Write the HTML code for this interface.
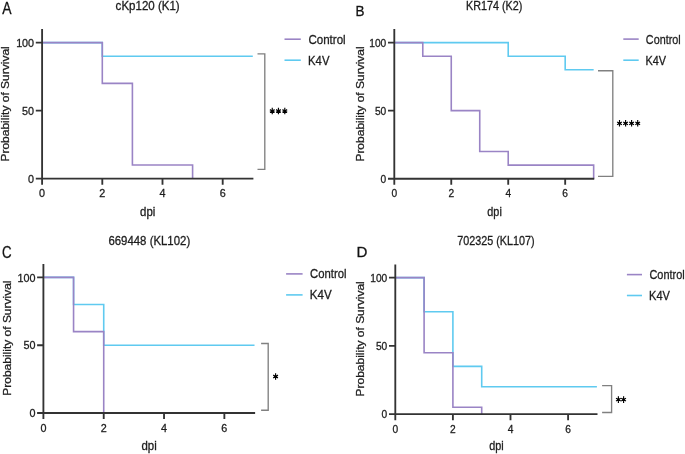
<!DOCTYPE html>
<html><head><meta charset="utf-8"><style>
html,body{margin:0;padding:0;background:#fff;width:685px;height:454px;overflow:hidden}
svg{display:block;will-change:transform}
text{font-family:"Liberation Sans",sans-serif;stroke:#1c1c1c;stroke-width:0.3;paint-order:stroke}
</style></head><body>
<svg width="685" height="454" viewBox="0 0 685 454">
<polyline points="42.1,42.6 102.3,42.6 102.3,56.2 252.8,56.2" fill="none" stroke="#5fcaf0" stroke-width="1.6"/>
<polyline points="42.1,42.6 102.3,42.6 102.3,83.4 132.4,83.4 132.4,165 192.6,165 192.6,178.6" fill="none" stroke="#9a84c5" stroke-width="1.6"/>
<path d="M42.1 29V178.6M35.8 178.6H253.4M35.8 42.6H42.1M35.8 110.6H42.1M42.1 178.6V184.7M102.3 178.6V184.7M162.5 178.6V184.7M222.7 178.6V184.7" fill="none" stroke="#333333" stroke-width="1.85"/>
<text transform="translate(16.13,46.8) scale(0.93,1)" font-size="11.6" fill="#1c1c1c">100</text>
<text transform="translate(22.12,114.8) scale(0.93,1)" font-size="11.6" fill="#1c1c1c">50</text>
<text transform="translate(28.12,182.8) scale(0.93,1)" font-size="11.6" fill="#1c1c1c">0</text>
<text transform="translate(39.1,197.2) scale(0.93,1)" font-size="11.6" fill="#1c1c1c">0</text>
<text transform="translate(99.3,197.2) scale(0.93,1)" font-size="11.6" fill="#1c1c1c">2</text>
<text transform="translate(159.53,197.2) scale(0.93,1)" font-size="11.6" fill="#1c1c1c">4</text>
<text transform="translate(219.66,197.2) scale(0.93,1)" font-size="11.6" fill="#1c1c1c">6</text>
<text transform="translate(140.12,215.8) scale(0.96,1)" font-size="11.9" fill="#1c1c1c">dpi</text>
<text transform="translate(8.7,103.8) rotate(-90) scale(1,0.93)" x="-57.78" y="0" font-size="12" fill="#1c1c1c">Probability of Survival</text>
<text transform="translate(115.62,9.8) scale(0.93,1)" font-size="12.4" fill="#1c1c1c">cKp120 (K1)</text>
<text transform="translate(2.17,13.9) scale(0.84,1)" font-size="16.6" fill="#111">A</text>
<path d="M284.5 39.2H300.8" stroke="#9a84c5" stroke-width="1.6"/>
<path d="M284.5 60.2H300.8" stroke="#5fcaf0" stroke-width="1.6"/>
<text transform="translate(308.41,43.6) scale(0.89,1)" font-size="13" fill="#1c1c1c">Control</text>
<text transform="translate(308.07,64.7) scale(0.87,1)" font-size="13" fill="#1c1c1c">K4V</text>
<path d="M257.5 53.9H264.8V169.4H257.5" fill="none" stroke="#808080" stroke-width="1.35"/>
<path d="M272.76 111L272.86 107.7L271.66 107.7L271.76 111ZM272.51 111.43L274.94 110.14L274.34 109.11L272.01 110.57ZM272.01 111.43L274.34 112.89L274.94 111.86L272.51 110.57ZM271.76 111L271.66 114.3L272.86 114.3L272.76 111ZM272.01 110.57L269.58 111.86L270.18 112.89L272.51 111.43ZM272.51 110.57L270.18 109.11L269.58 110.14L272.01 111.43Z" fill="#000"/>
<circle cx="272.26" cy="111" r="1.35" fill="#000"/>
<path d="M278.95 111L279.05 107.7L277.85 107.7L277.95 111ZM278.7 111.43L281.13 110.14L280.53 109.11L278.2 110.57ZM278.2 111.43L280.53 112.89L281.13 111.86L278.7 110.57ZM277.95 111L277.85 114.3L279.05 114.3L278.95 111ZM278.2 110.57L275.77 111.86L276.37 112.89L278.7 111.43ZM278.7 110.57L276.37 109.11L275.77 110.14L278.2 111.43Z" fill="#000"/>
<circle cx="278.45" cy="111" r="1.35" fill="#000"/>
<path d="M285.3 111L285.4 107.7L284.2 107.7L284.3 111ZM285.05 111.43L287.48 110.14L286.88 109.11L284.55 110.57ZM284.55 111.43L286.88 112.89L287.48 111.86L285.05 110.57ZM284.3 111L284.2 114.3L285.4 114.3L285.3 111ZM284.55 110.57L282.12 111.86L282.72 112.89L285.05 111.43ZM285.05 110.57L282.72 109.11L282.12 110.14L284.55 111.43Z" fill="#000"/>
<circle cx="284.8" cy="111" r="1.35" fill="#000"/>
<polyline points="394.3,42.6 508.22,42.6 508.22,56.21 565.18,56.21 565.18,69.82 593.66,69.82" fill="none" stroke="#5fcaf0" stroke-width="1.6"/>
<polyline points="394.3,42.6 422.78,42.6 422.78,56.21 451.26,56.21 451.26,110.65 479.74,110.65 479.74,151.48 508.22,151.48 508.22,165.09 593.66,165.09 593.66,178.7" fill="none" stroke="#9a84c5" stroke-width="1.6"/>
<path d="M394.3 29V178.7M388 178.7H594.26M388 42.6H394.3M388 110.65H394.3M394.3 178.7V184.8M451.26 178.7V184.8M508.22 178.7V184.8M565.18 178.7V184.8" fill="none" stroke="#333333" stroke-width="1.85"/>
<text transform="translate(369.21,46.8) scale(0.88,1)" font-size="11.6" fill="#1c1c1c">100</text>
<text transform="translate(374.9,114.85) scale(0.88,1)" font-size="11.6" fill="#1c1c1c">50</text>
<text transform="translate(380.6,182.9) scale(0.88,1)" font-size="11.6" fill="#1c1c1c">0</text>
<text transform="translate(391.45,197.3) scale(0.88,1)" font-size="11.6" fill="#1c1c1c">0</text>
<text transform="translate(448.41,197.3) scale(0.88,1)" font-size="11.6" fill="#1c1c1c">2</text>
<text transform="translate(505.4,197.3) scale(0.88,1)" font-size="11.6" fill="#1c1c1c">4</text>
<text transform="translate(562.3,197.3) scale(0.88,1)" font-size="11.6" fill="#1c1c1c">6</text>
<text transform="translate(487.35,215.8) scale(0.91,1)" font-size="11.9" fill="#1c1c1c">dpi</text>
<text transform="translate(363.7,103.85) rotate(-90) scale(1,0.93)" x="-57.78" y="0" font-size="12" fill="#1c1c1c">Probability of Survival</text>
<text transform="translate(466.01,9.8) scale(0.87,1)" font-size="12.4" fill="#1c1c1c">KR174 (K2)</text>
<text transform="translate(355.49,15.8) scale(0.9,1)" font-size="15" fill="#111">B</text>
<path d="M623.3 39.1H638.7" stroke="#9a84c5" stroke-width="1.6"/>
<path d="M623.3 60.2H638.7" stroke="#5fcaf0" stroke-width="1.6"/>
<text transform="translate(645.85,43.6) scale(0.83,1)" font-size="13" fill="#1c1c1c">Control</text>
<text transform="translate(645.5,64.6) scale(0.84,1)" font-size="13" fill="#1c1c1c">K4V</text>
<path d="M598 70.7H612.8V176.4H598" fill="none" stroke="#808080" stroke-width="1.35"/>
<path d="M620 123.3L620.1 120L618.9 120L619 123.3ZM619.75 123.73L622.18 122.44L621.58 121.41L619.25 122.87ZM619.25 123.73L621.58 125.19L622.18 124.16L619.75 122.87ZM619 123.3L618.9 126.6L620.1 126.6L620 123.3ZM619.25 122.87L616.82 124.16L617.42 125.19L619.75 123.73ZM619.75 122.87L617.42 121.41L616.82 122.44L619.25 123.73Z" fill="#000"/>
<circle cx="619.5" cy="123.3" r="1.35" fill="#000"/>
<path d="M626.1 123.3L626.2 120L625 120L625.1 123.3ZM625.85 123.73L628.28 122.44L627.68 121.41L625.35 122.87ZM625.35 123.73L627.68 125.19L628.28 124.16L625.85 122.87ZM625.1 123.3L625 126.6L626.2 126.6L626.1 123.3ZM625.35 122.87L622.92 124.16L623.52 125.19L625.85 123.73ZM625.85 122.87L623.52 121.41L622.92 122.44L625.35 123.73Z" fill="#000"/>
<circle cx="625.6" cy="123.3" r="1.35" fill="#000"/>
<path d="M632.1 123.3L632.2 120L631 120L631.1 123.3ZM631.85 123.73L634.28 122.44L633.68 121.41L631.35 122.87ZM631.35 123.73L633.68 125.19L634.28 124.16L631.85 122.87ZM631.1 123.3L631 126.6L632.2 126.6L632.1 123.3ZM631.35 122.87L628.92 124.16L629.52 125.19L631.85 123.73ZM631.85 122.87L629.52 121.41L628.92 122.44L631.35 123.73Z" fill="#000"/>
<circle cx="631.6" cy="123.3" r="1.35" fill="#000"/>
<path d="M638.2 123.3L638.3 120L637.1 120L637.2 123.3ZM637.95 123.73L640.38 122.44L639.78 121.41L637.45 122.87ZM637.45 123.73L639.78 125.19L640.38 124.16L637.95 122.87ZM637.2 123.3L637.1 126.6L638.3 126.6L638.2 123.3ZM637.45 122.87L635.02 124.16L635.62 125.19L637.95 123.73ZM637.95 122.87L635.62 121.41L635.02 122.44L637.45 123.73Z" fill="#000"/>
<circle cx="637.7" cy="123.3" r="1.35" fill="#000"/>
<polyline points="43.4,277.4 73.56,277.4 73.56,304.52 103.72,304.52 103.72,345.2 254.52,345.2" fill="none" stroke="#5fcaf0" stroke-width="1.6"/>
<polyline points="43.4,277.4 73.56,277.4 73.56,331.64 103.72,331.64 103.72,413" fill="none" stroke="#9a84c5" stroke-width="1.6"/>
<path d="M43.4 263.9V413M37.1 413H255.12M37.1 277.4H43.4M37.1 345.2H43.4M43.4 413V419.1M103.72 413V419.1M164.04 413V419.1M224.36 413V419.1" fill="none" stroke="#333333" stroke-width="1.85"/>
<text transform="translate(17.43,281.6) scale(0.93,1)" font-size="11.6" fill="#1c1c1c">100</text>
<text transform="translate(23.42,349.4) scale(0.93,1)" font-size="11.6" fill="#1c1c1c">50</text>
<text transform="translate(29.42,417.2) scale(0.93,1)" font-size="11.6" fill="#1c1c1c">0</text>
<text transform="translate(40.4,431.6) scale(0.93,1)" font-size="11.6" fill="#1c1c1c">0</text>
<text transform="translate(100.72,431.6) scale(0.93,1)" font-size="11.6" fill="#1c1c1c">2</text>
<text transform="translate(161.07,431.6) scale(0.93,1)" font-size="11.6" fill="#1c1c1c">4</text>
<text transform="translate(221.32,431.6) scale(0.93,1)" font-size="11.6" fill="#1c1c1c">6</text>
<text transform="translate(141.52,449.8) scale(0.96,1)" font-size="11.9" fill="#1c1c1c">dpi</text>
<text transform="translate(11,338) rotate(-90) scale(1,0.93)" x="-57.78" y="0" font-size="12" fill="#1c1c1c">Probability of Survival</text>
<text transform="translate(108.42,244.6) scale(0.92,1)" font-size="12.4" fill="#1c1c1c">669448 (KL102)</text>
<text transform="translate(2.12,258) scale(0.82,1)" font-size="16.2" fill="#111">C</text>
<path d="M286.1 273.9H302.6" stroke="#9a84c5" stroke-width="1.6"/>
<path d="M286.1 294.9H302.6" stroke="#5fcaf0" stroke-width="1.6"/>
<text transform="translate(310.12,278.3) scale(0.87,1)" font-size="13" fill="#1c1c1c">Control</text>
<text transform="translate(309.75,298.7) scale(0.89,1)" font-size="13" fill="#1c1c1c">K4V</text>
<path d="M261.1 343.5H268.2V410.2H261.1" fill="none" stroke="#808080" stroke-width="1.35"/>
<path d="M276.1 376.5L276.2 373.2L275 373.2L275.1 376.5ZM275.85 376.93L278.28 375.64L277.68 374.61L275.35 376.07ZM275.35 376.93L277.68 378.39L278.28 377.36L275.85 376.07ZM275.1 376.5L275 379.8L276.2 379.8L276.1 376.5ZM275.35 376.07L272.92 377.36L273.52 378.39L275.85 376.93ZM275.85 376.07L273.52 374.61L272.92 375.64L275.35 376.93Z" fill="#000"/>
<circle cx="275.6" cy="376.5" r="1.35" fill="#000"/>
<polyline points="395.3,277.6 424.1,277.6 424.1,311.73 452.9,311.73 452.9,366.33 481.7,366.33 481.7,386.8 596.9,386.8" fill="none" stroke="#5fcaf0" stroke-width="1.6"/>
<polyline points="395.3,277.6 424.1,277.6 424.1,352.68 452.9,352.68 452.9,407.28 481.7,407.28 481.7,414.1" fill="none" stroke="#9a84c5" stroke-width="1.6"/>
<path d="M395.3 264.4V414.1M389 414.1H597.5M389 277.6H395.3M389 345.85H395.3M395.3 414.1V420.2M452.9 414.1V420.2M510.5 414.1V420.2M568.1 414.1V420.2" fill="none" stroke="#333333" stroke-width="1.85"/>
<text transform="translate(370.21,281.8) scale(0.88,1)" font-size="11.6" fill="#1c1c1c">100</text>
<text transform="translate(375.9,350.05) scale(0.88,1)" font-size="11.6" fill="#1c1c1c">50</text>
<text transform="translate(381.6,418.3) scale(0.88,1)" font-size="11.6" fill="#1c1c1c">0</text>
<text transform="translate(392.45,432.7) scale(0.88,1)" font-size="11.6" fill="#1c1c1c">0</text>
<text transform="translate(450.05,432.7) scale(0.88,1)" font-size="11.6" fill="#1c1c1c">2</text>
<text transform="translate(507.68,432.7) scale(0.88,1)" font-size="11.6" fill="#1c1c1c">4</text>
<text transform="translate(565.22,432.7) scale(0.88,1)" font-size="11.6" fill="#1c1c1c">6</text>
<text transform="translate(489.2,450.1) scale(0.91,1)" font-size="11.9" fill="#1c1c1c">dpi</text>
<text transform="translate(363.7,338.75) rotate(-90) scale(1,0.93)" x="-57.78" y="0" font-size="12" fill="#1c1c1c">Probability of Survival</text>
<text transform="translate(457.25,244.6) scale(0.87,1)" font-size="12.4" fill="#1c1c1c">702325 (KL107)</text>
<text transform="translate(356.56,257.4) scale(1,1)" font-size="15.1" fill="#111">D</text>
<path d="M626.9 274.6H642" stroke="#9a84c5" stroke-width="1.6"/>
<path d="M626.9 295.5H642" stroke="#5fcaf0" stroke-width="1.6"/>
<text transform="translate(649.44,279) scale(0.84,1)" font-size="13" fill="#1c1c1c">Control</text>
<text transform="translate(649.09,299.9) scale(0.85,1)" font-size="13" fill="#1c1c1c">K4V</text>
<path d="M602.1 385.6H611.6V412.5H602.1" fill="none" stroke="#808080" stroke-width="1.35"/>
<path d="M618.9 399.6L619 396.3L617.8 396.3L617.9 399.6ZM618.65 400.03L621.08 398.74L620.48 397.71L618.15 399.17ZM618.15 400.03L620.48 401.49L621.08 400.46L618.65 399.17ZM617.9 399.6L617.8 402.9L619 402.9L618.9 399.6ZM618.15 399.17L615.72 400.46L616.32 401.49L618.65 400.03ZM618.65 399.17L616.32 397.71L615.72 398.74L618.15 400.03Z" fill="#000"/>
<circle cx="618.4" cy="399.6" r="1.35" fill="#000"/>
<path d="M624.1 399.6L624.2 396.3L623 396.3L623.1 399.6ZM623.85 400.03L626.28 398.74L625.68 397.71L623.35 399.17ZM623.35 400.03L625.68 401.49L626.28 400.46L623.85 399.17ZM623.1 399.6L623 402.9L624.2 402.9L624.1 399.6ZM623.35 399.17L620.92 400.46L621.52 401.49L623.85 400.03ZM623.85 399.17L621.52 397.71L620.92 398.74L623.35 400.03Z" fill="#000"/>
<circle cx="623.6" cy="399.6" r="1.35" fill="#000"/>
</svg>
</body></html>
